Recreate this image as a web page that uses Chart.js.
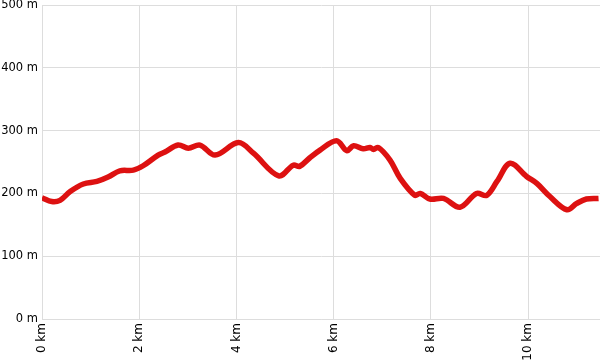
<!DOCTYPE html>
<html>
<head>
<meta charset="utf-8">
<script src="https://cdn.jsdelivr.net/npm/chart.js@4"></script>
<style>
  html, body { margin: 0; padding: 0; background: #fff; }
  #wrap { width: 600px; height: 362px; }
</style>
</head>
<body>
<div id="wrap"><canvas id="profileChart"></canvas></div>
<script>
// Elevation profile (km / m)
const distanceKm = [0, 0.2, 0.37, 0.58, 0.85, 1.13, 1.36, 1.6, 1.88, 2.08, 2.39, 2.53, 2.8, 3.01, 3.25, 3.56,
    4.04, 4.35, 4.87, 5.17, 5.3, 5.5, 5.72, 6.06, 6.27, 6.41, 6.61, 6.75, 6.82, 6.92, 7.16, 7.37,
    7.67, 7.78, 7.98, 8.26, 8.6, 8.94, 9.15, 9.36, 9.63, 9.97, 10.18, 10.45, 10.8, 11.0, 11.2, 11.45];
const elevationM = [193, 187, 189, 203, 215, 219, 226, 236, 237, 244, 261, 266, 277, 272, 277, 261,
    281, 264, 228, 245, 243, 256, 269, 284, 268, 276, 271, 273, 270, 273, 253, 224,
    197, 200, 191, 192, 178, 200, 197, 219, 248, 227, 216, 195, 174, 184, 191, 192];
const yTicks = [0, 100, 200, 300, 400, 500];

const points = distanceKm.map((d, i) => ({ x: d, y: elevationM[i] }));

const ctx = document.getElementById('profileChart').getContext('2d');
new Chart(ctx, {
    type: 'line',
    data: {
        datasets: [{
            data: points,
            borderColor: '#dd1111',
            borderWidth: 5.5,
            pointRadius: 0,
            tension: 0.35,
            fill: false
        }]
    },
    options: {
        responsive: true,
        maintainAspectRatio: false,
        animation: false,
        layout: { padding: 0 },
        plugins: {
            legend: { display: false },
            tooltip: { enabled: false }
        },
        scales: {
            x: {
                type: 'linear',
                min: 0,
                max: 11.48,
                border: { color: '#dddddd' },
                grid: { color: '#dddddd', drawTicks: false },
                afterFit: axis => {
                    axis.paddingRight = 0;
                    axis.paddingLeft = 0;
                    axis.height = 43;
                },
                ticks: {
                    stepSize: 2,
                    includeBounds: true,
                    minRotation: 90,
                    maxRotation: 90,
                    padding: 4,
                    color: '#000',
                    font: { family: 'DejaVu Sans', size: 12 },
                    callback: v => (v % 2 === 0 ? v + ' km' : '')
                }
            },
            y: {
                min: 0,
                max: 500,
                border: { color: '#dddddd' },
                grid: { color: '#dddddd', drawTicks: false },
                afterBuildTicks: axis => { axis.ticks = yTicks.map(v => ({ value: v })); },
                afterFit: axis => {
                    axis.width = 42;
                    axis.paddingTop = 5;
                    axis.paddingBottom = 0;
                },
                ticks: {
                    padding: 4,
                    color: '#000',
                    font: { family: 'DejaVu Sans', size: 11.5 },
                    callback: v => v + ' m'
                }
            }
        }
    }
});
</script>
</body>
</html>
